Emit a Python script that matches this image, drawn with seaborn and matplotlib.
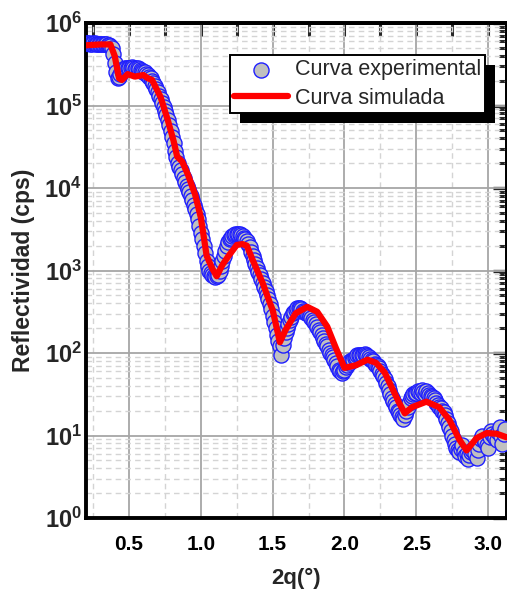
import numpy as np
import pandas as pd
import matplotlib
matplotlib.use("Agg")
import matplotlib.pyplot as plt
import seaborn as sns
from matplotlib.ticker import LogLocator, NullFormatter, MultipleLocator
from matplotlib.patches import Rectangle

# ---------------- data ----------------
# experimental curve: 2-theta (deg) and log10 of reflectivity (cps)
exp_2theta = [
    0.20, 0.21, 0.22, 0.23, 0.24, 0.25, 0.26, 0.27, 0.28, 0.29,
    0.30, 0.31, 0.32, 0.33, 0.34, 0.35, 0.36, 0.37, 0.38, 0.39,
    0.40, 0.41, 0.42, 0.43, 0.44, 0.45, 0.46, 0.47, 0.48, 0.49,
    0.50, 0.51, 0.52, 0.53, 0.54, 0.55, 0.56, 0.57, 0.58, 0.59,
    0.60, 0.61, 0.62, 0.63, 0.64, 0.65, 0.66, 0.67, 0.68, 0.69,
    0.70, 0.71, 0.72, 0.73, 0.74, 0.75, 0.76, 0.77, 0.78, 0.79,
    0.80, 0.81, 0.82, 0.83, 0.84, 0.85, 0.86, 0.87, 0.88, 0.89,
    0.90, 0.91, 0.92, 0.93, 0.94, 0.95, 0.96, 0.97, 0.98, 0.99,
    1.00, 1.01, 1.02, 1.03, 1.04, 1.05, 1.06, 1.07, 1.08, 1.09,
    1.10, 1.11, 1.12, 1.13, 1.14, 1.15, 1.16, 1.17, 1.18, 1.19,
    1.20, 1.21, 1.22, 1.23, 1.24, 1.25, 1.26, 1.27, 1.28, 1.29,
    1.30, 1.31, 1.32, 1.33, 1.34, 1.35, 1.36, 1.37, 1.38, 1.39,
    1.40, 1.41, 1.42, 1.43, 1.44, 1.45, 1.46, 1.47, 1.48, 1.49,
    1.50, 1.51, 1.52, 1.53, 1.54, 1.55, 1.56, 1.57, 1.58, 1.59,
    1.60, 1.61, 1.62, 1.63, 1.64, 1.65, 1.66, 1.67, 1.68, 1.69,
    1.70, 1.71, 1.72, 1.73, 1.74, 1.75, 1.76, 1.77, 1.78, 1.79,
    1.80, 1.81, 1.82, 1.83, 1.84, 1.85, 1.86, 1.87, 1.88, 1.89,
    1.90, 1.91, 1.92, 1.93, 1.94, 1.95, 1.96, 1.97, 1.98, 1.99,
    2.00, 2.01, 2.02, 2.03, 2.04, 2.05, 2.06, 2.07, 2.08, 2.09,
    2.10, 2.11, 2.12, 2.13, 2.14, 2.15, 2.16, 2.17, 2.18, 2.19,
    2.20, 2.21, 2.22, 2.23, 2.24, 2.25, 2.26, 2.27, 2.28, 2.29,
    2.30, 2.31, 2.32, 2.33, 2.34, 2.35, 2.36, 2.37, 2.38, 2.39,
    2.40, 2.41, 2.42, 2.43, 2.44, 2.45, 2.46, 2.47, 2.48, 2.49,
    2.50, 2.51, 2.52, 2.53, 2.54, 2.55, 2.56, 2.57, 2.58, 2.59,
    2.60, 2.61, 2.62, 2.63, 2.64, 2.65, 2.66, 2.67, 2.68, 2.69,
    2.70, 2.71, 2.72, 2.73, 2.74, 2.75, 2.76, 2.77, 2.78, 2.79,
    2.80, 2.81, 2.82, 2.83, 2.84, 2.85, 2.86, 2.87, 2.88, 2.89,
    2.90, 2.91, 2.92, 2.93, 2.94, 2.95, 2.96, 2.97, 2.98, 2.99,
    3.00, 3.01, 3.02, 3.03, 3.04, 3.05, 3.06, 3.07, 3.08, 3.09,
    3.10, 3.11, 3.12]
exp_log10_cps = [
    5.76, 5.76, 5.76, 5.75, 5.75, 5.76, 5.76, 5.75, 5.75, 5.75,
    5.75, 5.74, 5.74, 5.74, 5.74, 5.73, 5.73, 5.72, 5.70, 5.63,
    5.52, 5.40, 5.33, 5.34, 5.38, 5.42, 5.44, 5.45, 5.46, 5.46,
    5.45, 5.46, 5.47, 5.46, 5.44, 5.45, 5.46, 5.44, 5.43, 5.42,
    5.41, 5.40, 5.38, 5.37, 5.35, 5.33, 5.30, 5.27, 5.24, 5.20,
    5.16, 5.12, 5.08, 5.03, 4.98, 4.93, 4.88, 4.82, 4.76, 4.69,
    4.62, 4.54, 4.45, 4.37, 4.30, 4.26, 4.22, 4.17, 4.12, 4.07,
    4.02, 3.99, 3.95, 3.90, 3.85, 3.80, 3.75, 3.69, 3.62, 3.54,
    3.45, 3.38, 3.30, 3.21, 3.12, 3.05, 3.00, 2.97, 2.95, 2.93,
    2.92, 2.93, 2.95, 2.99, 3.05, 3.11, 3.18, 3.24, 3.30, 3.35,
    3.38, 3.40, 3.42, 3.43, 3.44, 3.44, 3.44, 3.44, 3.43, 3.42,
    3.40, 3.38, 3.36, 3.32, 3.28, 3.23, 3.18, 3.13, 3.08, 3.03,
    2.98, 2.94, 2.90, 2.85, 2.80, 2.75, 2.70, 2.65, 2.60, 2.53,
    2.45, 2.38, 2.30, 2.22, 2.15, 2.08, 1.98, 2.10, 2.18, 2.25,
    2.30, 2.35, 2.40, 2.44, 2.48, 2.50, 2.52, 2.54, 2.55, 2.54,
    2.53, 2.51, 2.50, 2.49, 2.48, 2.47, 2.45, 2.43, 2.40, 2.38,
    2.35, 2.31, 2.28, 2.25, 2.22, 2.18, 2.15, 2.11, 2.08, 2.04,
    2.00, 1.98, 1.95, 1.91, 1.88, 1.84, 1.80, 1.78, 1.76, 1.78,
    1.80, 1.83, 1.85, 1.88, 1.90, 1.91, 1.92, 1.94, 1.95, 1.97,
    1.98, 1.98, 1.97, 1.98, 1.99, 1.98, 1.96, 1.95, 1.93, 1.92,
    1.90, 1.87, 1.85, 1.84, 1.82, 1.78, 1.75, 1.72, 1.68, 1.64,
    1.60, 1.55, 1.50, 1.45, 1.42, 1.38, 1.35, 1.30, 1.28, 1.25,
    1.22, 1.20, 1.25, 1.30, 1.35, 1.40, 1.45, 1.48, 1.50, 1.51,
    1.52, 1.54, 1.53, 1.52, 1.55, 1.53, 1.50, 1.54, 1.52, 1.49,
    1.48, 1.47, 1.45, 1.43, 1.40, 1.37, 1.35, 1.33, 1.30, 1.28,
    1.25, 1.20, 1.15, 1.10, 1.05, 1.00, 0.95, 0.90, 0.85, 0.82,
    0.80, 0.84, 0.88, 0.80, 0.75, 0.78, 0.72, 0.76, 0.80, 0.83,
    0.85, 0.78, 0.73, 0.82, 0.90, 0.96, 1.00, 0.95, 0.92, 0.88,
    0.85, 0.98, 1.05, 1.02, 1.00, 0.97, 0.95, 1.04, 1.10, 1.00,
    0.90, 1.02, 1.08]

# simulated curve: 2-theta (deg) and reflectivity (cps)
sim_2theta = [0.20, 0.30, 0.37, 0.40, 0.43, 0.45, 0.49, 0.54, 0.60, 0.63,
              0.66, 0.72, 0.77, 0.81, 0.835, 0.87, 0.91, 0.96, 1.00, 1.04,
              1.08, 1.11, 1.15, 1.19, 1.25, 1.29, 1.32, 1.36, 1.43, 1.48,
              1.50, 1.55, 1.59, 1.66, 1.74, 1.81, 1.88, 1.94, 2.00, 2.08,
              2.16, 2.22, 2.28, 2.34, 2.38, 2.42, 2.47, 2.57, 2.66, 2.73,
              2.80, 2.85, 2.92, 2.99, 3.06, 3.13]
sim_cps = [537000, 550000, 550000, 398000, 214000, 204000, 240000, 224000, 234000, 214000,
           204000, 126000, 66100, 37200, 24000, 20900, 14500, 8320, 4370, 1510,
           1050, 851, 1170, 1480, 2040, 2090, 2000, 1350, 708, 407,
           331, 135, 191, 302, 363, 316, 209, 115, 66, 71,
           83, 76, 58, 35, 25, 18.6, 22, 25.7, 22, 15.5,
           8.9, 6.6, 9.3, 10.7, 10.5, 9.5]

x_ticks = [0.5, 1.0, 1.5, 2.0, 2.5, 3.0]
x_ticklabels = ["0.5", "1.0", "1.5", "2.0", "2.5", "3.0"]
y_ticks = [1, 10, 100, 1000, 10000, 100000, 1000000]
y_ticklabels = [r"$\mathbf{10^{0}}$", r"$\mathbf{10^{1}}$", r"$\mathbf{10^{2}}$",
                r"$\mathbf{10^{3}}$", r"$\mathbf{10^{4}}$", r"$\mathbf{10^{5}}$",
                r"$\mathbf{10^{6}}$"]
label_exp = "Curva experimental"
label_sim = "Curva simulada"
x_title = "2q(°)"
y_title = "Reflectividad (cps)"

exp_df = pd.DataFrame({"2theta": exp_2theta,
                       "cps": np.power(10.0, np.array(exp_log10_cps))})
sim_df = pd.DataFrame({"2theta": sim_2theta, "cps": sim_cps})

# ---------------- style ----------------
sns.set_style("white")
plt.rcParams["font.family"] = ["Liberation Sans", "DejaVu Sans"]
plt.rcParams["mathtext.fontset"] = "custom"
plt.rcParams["mathtext.rm"] = "Liberation Sans"
plt.rcParams["mathtext.bf"] = "Liberation Sans:bold"
plt.rcParams["mathtext.it"] = "Liberation Sans:italic"

W, H = 507, 590
fig = plt.figure(figsize=(W / 100, H / 100), dpi=100)
ax = fig.add_axes([86 / W, 72 / H, 421 / W, 495 / H])

sns.scatterplot(data=exp_df, x="2theta", y="cps", ax=ax, marker="o", s=118,
                color="#c0c0c0", edgecolor="#1f1fff", linewidth=1.0,
                label=label_exp, zorder=3)
sns.lineplot(data=sim_df, x="2theta", y="cps", ax=ax, color="#ff0000",
             linewidth=4.5, sort=False, label=label_sim, zorder=4)

ax.set_yscale("log")
ax.set_xlim(0.2, 0.2 + 421 / 143.6)
ax.set_ylim(1, 1e6)

ax.set_xticks(x_ticks, labels=x_ticklabels)
ax.xaxis.set_minor_locator(MultipleLocator(0.25))
ax.set_yticks(y_ticks, labels=y_ticklabels)
ax.yaxis.set_minor_locator(LogLocator(base=10, subs=np.arange(2, 10), numticks=20))
ax.yaxis.set_minor_formatter(NullFormatter())

for lab in ax.get_xticklabels():
    lab.set_fontweight("bold")
    lab.set_fontsize(15)
for lab in ax.get_yticklabels():
    lab.set_fontsize(17)

ax.grid(which="major", color="#a6a6a6", linewidth=1.3, linestyle="-")
ax.grid(which="minor", color="#d4d4d4", linewidth=1.0, linestyle=(0, (4, 3)))
ax.set_axisbelow(True)

for sp in ax.spines.values():
    sp.set_linewidth(2.8)
    sp.set_color("black")

ax.tick_params(axis="x", which="major", direction="inout", length=14, width=2.4,
               top=False, pad=5, colors="black")
ax.tick_params(axis="x", which="minor", direction="inout", length=7, width=2.2, top=False)
ax.tick_params(axis="y", which="major", direction="inout", length=14, width=2.4,
               right=False, pad=-4)
ax.tick_params(axis="y", which="minor", direction="inout", length=7, width=2.2, right=False)

# top / right inward ticks
secx = ax.secondary_xaxis("top")
secx.set_xticks(x_ticks)
secx.xaxis.set_minor_locator(MultipleLocator(0.25))
secx.tick_params(which="both", direction="in", length=9, width=2.2, labeltop=False)
secx.spines["top"].set_linewidth(2.8)

secy = ax.secondary_yaxis("right")
secy.set_yticks(y_ticks)
secy.yaxis.set_minor_locator(LogLocator(base=10, subs=np.arange(2, 10), numticks=20))
secy.yaxis.set_minor_formatter(NullFormatter())
secy.tick_params(axis="y", which="major", direction="in", length=10, width=2.4, labelright=False)
secy.tick_params(axis="y", which="minor", direction="in", length=6, width=2.2)
secy.spines["right"].set_linewidth(2.8)

ax.set_xlabel(x_title, fontsize=16, fontweight="bold")
ax.set_ylabel(y_title, fontsize=16.5, fontweight="bold")
ax.xaxis.set_label_coords(0.5, -0.100)
ax.yaxis.set_label_coords(-0.122, 0.5)

leg = ax.legend(loc="upper left", bbox_to_anchor=(230 / W, 1 - 55 / H),
                bbox_transform=fig.transFigure, frameon=True, fancybox=False,
                framealpha=1.0, fontsize=15.5, borderaxespad=0, borderpad=0.2,
                handlelength=2.5, handletextpad=0.3, labelspacing=0.35,
                markerscale=1.0)
leg.get_frame().set_edgecolor("black")
leg.get_frame().set_linewidth(1.4)
leg.get_frame().set_facecolor("white")
leg.set_zorder(6)

fig.canvas.draw()
bb = leg.get_window_extent()
shadow = Rectangle((bb.x0 + 10, bb.y0 - 10), bb.width, bb.height, transform=None,
                   facecolor="black", edgecolor="none", zorder=5.5, clip_on=False)
ax.add_patch(shadow)

fig.savefig("out.png", dpi=100)
